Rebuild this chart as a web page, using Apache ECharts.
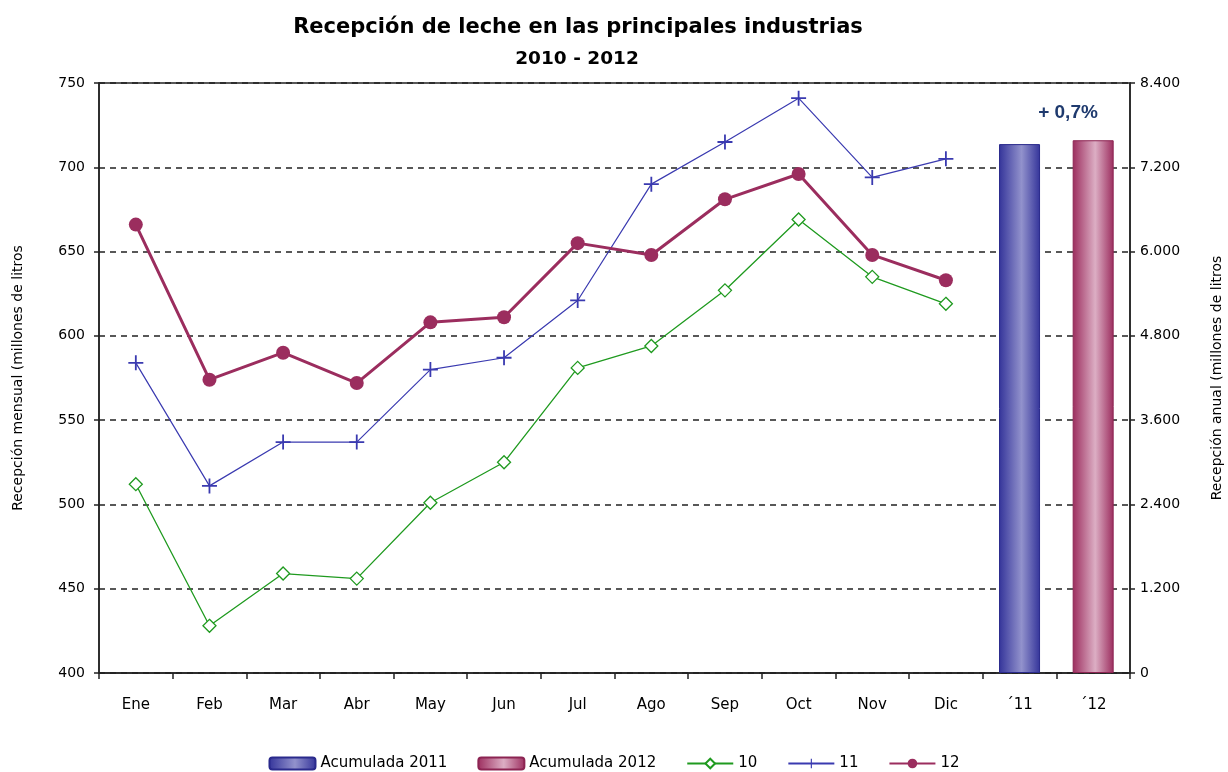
<!DOCTYPE html>
<html lang="es">
<head>
    <meta charset="utf-8">
    <title>Recepción de leche</title>
    <script src="https://cdn.jsdelivr.net/npm/echarts@6/dist/echarts.min.js"></script>
    <style>
        html, body { margin: 0; padding: 0; background: #fff; }
        #main { width: 1228px; height: 772px; }
    </style>
</head>
<body>
<div id="main"></div>
<script type="text/javascript">
// categorias del eje X
var meses = ['Ene', 'Feb', 'Mar', 'Abr', 'May', 'Jun', 'Jul', 'Ago', 'Sep', 'Oct', 'Nov', 'Dic', '´11', '´12'];
// recepcion mensual (millones de litros)
var serie10 = [512, 428, 459, 456, 501, 525, 581, 594, 627, 669, 635, 619];
var serie11 = [584, 511, 537, 537, 580, 587, 621, 690, 715, 741, 694, 705];
var serie12 = [666, 574, 590, 572, 608, 611, 655, 648, 681, 696, 648, 633];
// recepcion anual acumulada
var acumulada2011 = 7530;
var acumulada2012 = 7585;
var variacion = '+ 0,7%';

var fuente = 'Liberation Sans, Arial, sans-serif';
var fuenteAncha = 'DejaVu Sans, Verdana, sans-serif';

function barra(pos, valor) {
    var d = [];
    for (var i = 0; i < meses.length; i++) d.push(i === pos ? valor : '-');
    return d;
}
function degradado(borde, centro) {
    return new echarts.graphic.LinearGradient(0, 0, 1, 0, [
        {offset: 0, color: borde},
        {offset: 0.55, color: centro},
        {offset: 1, color: borde}
    ]);
}

var cruz = 'path://M4.4,0 L5.6,0 L5.6,4.4 L10,4.4 L10,5.6 L5.6,5.6 L5.6,10 L4.4,10 L4.4,5.6 L0,5.6 L0,4.4 L4.4,4.4 Z';

var myChart = echarts.init(document.getElementById('main'));
var option = {
    animation: false,
    textStyle: {fontFamily: fuente, color: '#000'},
    graphic: [
        {type: 'text', style: {x: 578, y: 28, text: 'Recepción de leche en las principales industrias', font: 'bold 21px ' + fuenteAncha, fill: '#000', align: 'center', verticalAlign: 'middle'}},
        {type: 'text', style: {x: 577, y: 59, text: '2010 - 2012', font: 'bold 18.5px ' + fuenteAncha, fill: '#000', align: 'center', verticalAlign: 'middle'}},
        {type: 'text', style: {x: 1068, y: 113, text: variacion, font: 'bold 19px ' + fuente, fill: '#1f3a6e', align: 'center', verticalAlign: 'middle'}}
    ],
    grid: {
        left: 99, right: 98, top: 83, bottom: 99,
        outerBoundsMode: 'none',
        containLabel: false,
        show: true, borderColor: '#222', borderWidth: 1.5, backgroundColor: 'transparent'
    },
    legend: {
        top: 751,
        left: 'center',
        itemWidth: 46,
        itemHeight: 12,
        itemGap: 30,
        textStyle: {fontSize: 15, color: '#000', fontFamily: fuenteAncha},
        data: ['Acumulada 2011', 'Acumulada 2012', '10', '11', '12']
    },
    xAxis: {
        type: 'category',
        data: meses,
        boundaryGap: true,
        axisLine: {lineStyle: {color: '#222', width: 1.5}},
        axisTick: {show: true, length: 6, lineStyle: {color: '#222', width: 1.5}},
        axisLabel: {fontSize: 15, color: '#000', margin: 25, fontFamily: fuenteAncha},
        splitLine: {show: false}
    },
    yAxis: [
        {
            type: 'value',
            min: 400, max: 750, interval: 50,
            name: 'Recepción mensual (millones de litros',
            nameLocation: 'middle',
            nameRotate: 90,
            nameGap: 74,
            nameTextStyle: {fontSize: 14, color: '#000', fontFamily: fuenteAncha},
            axisLine: {show: true, lineStyle: {color: '#222', width: 1.5}},
            axisTick: {show: true, length: 5, lineStyle: {color: '#222', width: 1.5}},
            axisLabel: {fontSize: 14, color: '#000', margin: 14, fontFamily: fuenteAncha},
            splitLine: {show: true, lineStyle: {color: '#222', type: [6, 5], width: 1.5}}
        },
        {
            type: 'value',
            min: 0, max: 8400, interval: 1200,
            name: 'Recepción anual (millones de litros',
            nameLocation: 'middle',
            nameRotate: 90,
            nameGap: 80,
            nameTextStyle: {fontSize: 14, color: '#000', fontFamily: fuenteAncha},
            axisLine: {show: true, lineStyle: {color: '#222', width: 1.5}},
            axisTick: {show: true, length: 5, lineStyle: {color: '#222', width: 1.5}},
            axisLabel: {
                fontSize: 14, color: '#000', margin: 10, fontFamily: fuenteAncha,
                formatter: function (v) { return String(v).replace(/\B(?=(\d{3})+(?!\d))/g, '.'); }
            },
            splitLine: {show: false}
        }
    ],
    series: [
        {
            name: 'Acumulada 2011',
            type: 'bar',
            yAxisIndex: 1,
            data: barra(12, acumulada2011),
            barWidth: 41,
            barGap: '-100%',
            itemStyle: {color: degradado('#34349a', '#9292cc'), borderColor: '#2a2a8c', borderWidth: 1}
        },
        {
            name: 'Acumulada 2012',
            type: 'bar',
            yAxisIndex: 1,
            data: barra(13, acumulada2012),
            barWidth: 41,
            barGap: '-100%',
            itemStyle: {color: degradado('#9c2d5e', '#dcaec4'), borderColor: '#8c2452', borderWidth: 1}
        },
        {
            name: '10',
            type: 'line',
            data: serie10,
            symbol: 'diamond',
            symbolSize: 13,
            showAllSymbol: true,
            lineStyle: {color: '#1f9a1f', width: 1.3},
            itemStyle: {color: '#fff', borderColor: '#1f9a1f', borderWidth: 1.3},
            z: 3
        },
        {
            name: '11',
            type: 'line',
            data: serie11,
            symbol: cruz,
            symbolSize: 15,
            showAllSymbol: true,
            lineStyle: {color: '#3a3ab0', width: 1.2},
            itemStyle: {color: '#3a3ab0'},
            z: 3
        },
        {
            name: '12',
            type: 'line',
            data: serie12,
            symbol: 'circle',
            symbolSize: 14,
            showAllSymbol: true,
            lineStyle: {color: '#9b2d5e', width: 3},
            itemStyle: {color: '#9b2d5e'},
            z: 4
        }
    ]
};
myChart.setOption(option);
</script>
</body>
</html>
